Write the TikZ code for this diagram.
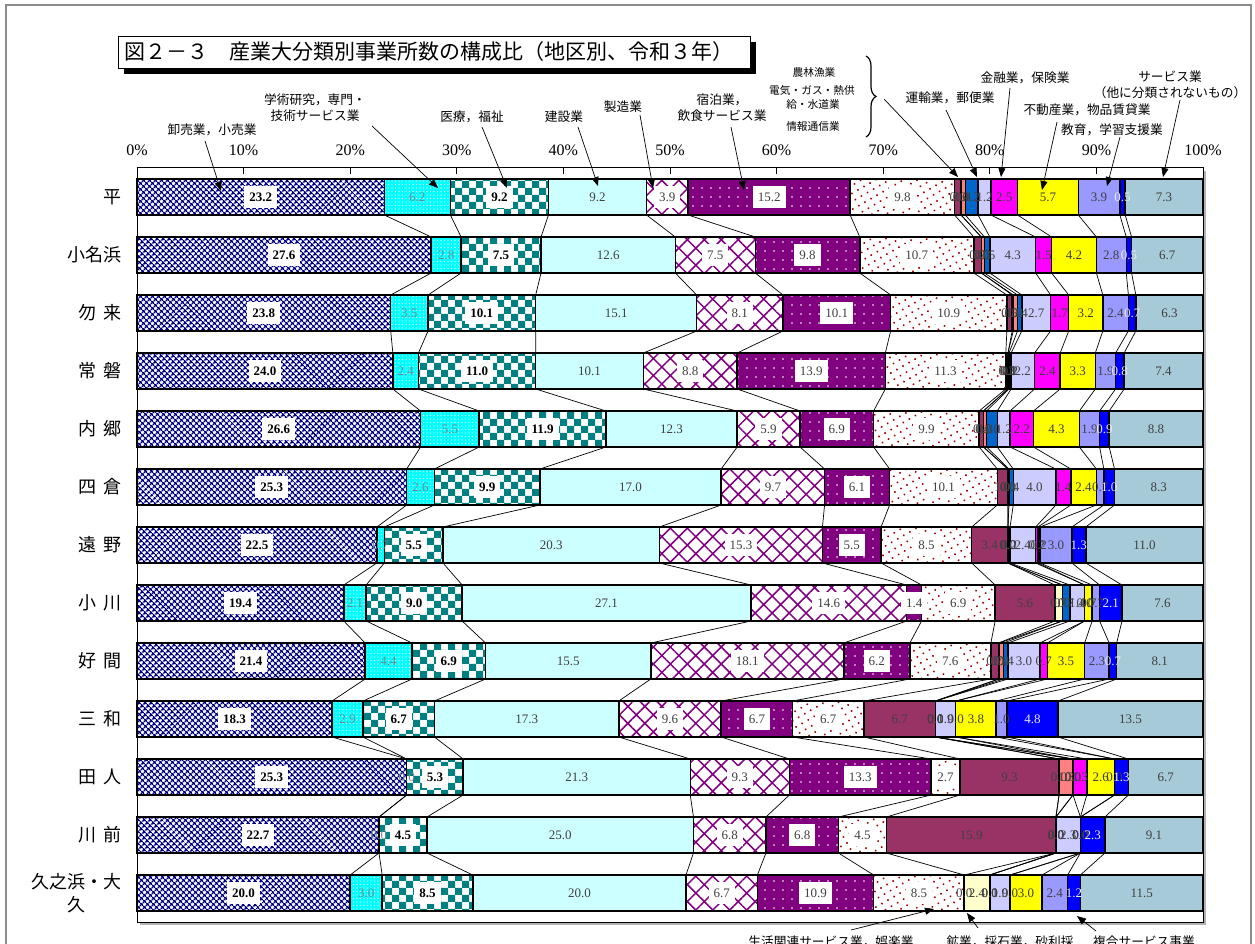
\documentclass[tikz,border=0pt]{standalone}
\usepackage{fontspec}
\setmainfont{Liberation Serif}
\newfontfamily\jp{Noto Sans CJK JP}
\usetikzlibrary{patterns,patterns.meta,arrows.meta,decorations.pathreplacing}
\pgfdeclarepatternformonly{bigcheck}{\pgfqpoint{-0.1pt}{-0.1pt}}{\pgfqpoint{14.1pt}{14.1pt}}{\pgfqpoint{14pt}{14pt}}{%
  \pgfpathrectangle{\pgfqpoint{0pt}{0pt}}{\pgfqpoint{7pt}{7pt}}%
  \pgfpathrectangle{\pgfqpoint{7pt}{7pt}}{\pgfqpoint{7pt}{7pt}}%
  \pgfusepath{fill}}
\definecolor{navyc}{HTML}{000080}
\definecolor{cyanc}{HTML}{00FFFF}
\definecolor{tealc}{HTML}{008080}
\definecolor{lcyan}{HTML}{CCFFFF}
\definecolor{purp}{HTML}{800080}
\definecolor{dred}{HTML}{A00000}
\definecolor{maroonc}{HTML}{993366}
\definecolor{lyel}{HTML}{FFFFCC}
\definecolor{salm}{HTML}{FF8080}
\definecolor{midblue}{HTML}{0066CC}
\definecolor{lav}{HTML}{CCCCFF}
\definecolor{mag}{HTML}{FF00FF}
\definecolor{yel}{HTML}{FFFF00}
\definecolor{peri}{HTML}{9999FF}
\definecolor{blu}{HTML}{0000FF}
\definecolor{lblue}{HTML}{A6CAD8}
\definecolor{txt}{HTML}{404040}
\definecolor{grayblue}{HTML}{6A8A96}
\definecolor{framegray}{HTML}{8C8C8C}

\def\rA{23.2,6.2,9.2,9.2,3.9,15.2,9.8,0.6,0.0,0.4,1.2,1.2,2.5,5.7,3.9,0.5,7.3}
\def\rB{27.6,2.8,7.5,12.6,7.5,9.8,10.7,0.7,0.0,0.3,0.5,4.3,1.5,4.2,2.8,0.5,6.7}
\def\rC{23.8,3.5,10.1,15.1,8.1,10.1,10.9,0.5,0.1,0.4,0.4,2.7,1.7,3.2,2.4,0.7,6.3}
\def\rD{24.0,2.4,11.0,10.1,8.8,13.9,11.3,0.2,0.0,0.1,0.2,2.2,2.4,3.3,1.9,0.8,7.4}
\def\rE{26.6,5.5,11.9,12.3,5.9,6.9,9.9,0.4,0.0,0.3,1.0,1.2,2.2,4.3,1.9,0.9,8.8}
\def\rF{25.3,2.6,9.9,17.0,9.7,6.1,10.1,1.0,0.0,0.1,0.4,4.0,1.4,2.4,0.7,1.0,8.3}
\def\rG{22.5,0.7,5.5,20.3,15.3,5.5,8.5,3.4,0.0,0.0,0.2,2.4,0.2,0.2,3.0,1.3,11.0}
\def\rH{19.4,2.1,9.0,27.1,14.6,1.4,6.9,5.6,0.7,0.0,0.7,1.4,0.0,0.7,0.7,2.1,7.6}
\def\rI{21.4,4.4,6.9,15.5,18.1,6.2,7.6,0.7,0.1,0.4,0.4,3.0,0.7,3.5,2.3,0.7,8.1}
\def\rJ{18.3,2.9,6.7,17.3,9.6,6.7,6.7,6.7,0.0,0.0,0.0,1.9,0.0,3.8,1.0,4.8,13.5}
\def\rK{25.3,0.0,5.3,21.3,9.3,13.3,2.7,9.3,0.0,1.3,0.0,0.0,1.3,2.6,0.0,1.3,6.7}
\def\rL{22.7,0.0,4.5,25.0,6.8,6.8,4.5,15.9,0.0,0.0,0.0,2.3,0.0,0.0,0.0,2.3,9.1}
\def\rM{20.0,3.0,8.5,20.0,6.7,10.9,8.5,0.0,2.4,0.0,0.0,1.9,0.0,3.0,2.4,1.2,11.5}

\newcommand\drawbar[2]{%
  \pgfmathsetmacro\yt{179+58*#1}%
  \pgfmathsetmacro\yb{\yt+36}%
  \pgfmathsetmacro\yc{\yt+18}%
  \gdef\cumx{0}%
  \foreach \v [count=\k] in #2 {%
    \pgfmathsetmacro\xs{\cumx}%
    \pgfmathsetmacro\xe{\k==17 ? 100 : \cumx+\v}%
    \xdef\cumx{\xe}%
    \edef\tmp{\noexpand\path[seg,s\k]}%
    \tmp ({137+10.66*\xs},\yt) rectangle ({137+10.66*\xe},\yb);
    \coordinate (t#1-\k) at ({137+10.66*\xe},\yt);
    \coordinate (b#1-\k) at ({137+10.66*\xe},\yb);
  }%
  \gdef\cumx{0}%
  \foreach \v [count=\k] in #2 {%
    \pgfmathsetmacro\xs{\cumx}%
    \pgfmathsetmacro\xe{\k==17 ? 100 : \cumx+\v}%
    \xdef\cumx{\xe}%
    \edef\tmp{\noexpand\node[lab,l\k] (n#1-\k)}%
    \tmp at ({137+10.66*(\xs+\xe)/2},\yc) {\v};
  }%
}

\begin{document}
\begin{tikzpicture}[x=1pt,y=-1pt,
  seg/.style={draw=black,line width=1.5pt},
  s1/.style={preaction={fill=white},pattern={Hatch[distance=4pt,angle=45,line width=1.55pt]},pattern color=navyc},
  s2/.style={preaction={fill=cyanc},pattern={Dots[distance=3.5pt,radius=0.7pt]},pattern color=white},
  s3/.style={preaction={fill=white},pattern=bigcheck,pattern color=tealc},
  s4/.style={fill=lcyan},
  s5/.style={preaction={fill=white},pattern={Hatch[distance=12pt,angle=45,line width=1.5pt]},pattern color=purp},
  s6/.style={preaction={fill=purp},pattern={Dots[distance=9pt,radius=0.9pt]},pattern color=white},
  s7/.style={preaction={fill=white},pattern={Dots[distance=7pt,radius=1.1pt,angle=30]},pattern color=dred},
  s8/.style={fill=maroonc}, s9/.style={fill=lyel}, s10/.style={fill=salm},
  s11/.style={fill=midblue}, s12/.style={fill=lav}, s13/.style={fill=mag},
  s14/.style={fill=yel}, s15/.style={fill=peri}, s16/.style={fill=blu}, s17/.style={fill=lblue},
  lab/.style={font=\fontsize{13}{14}\selectfont,text=txt,inner sep=1.5pt},
  lw/.style={fill=white,inner xsep=5pt,minimum height=22pt},
  l1/.style={lw,font=\fontsize{13}{14}\selectfont\bfseries,text=black},
  l2/.style={text=grayblue}, l3/.style={l1}, l4/.style={},
  l5/.style={lw}, l6/.style={lw}, l7/.style={lw},
  l8/.style={}, l9/.style={}, l10/.style={}, l11/.style={}, l12/.style={},
  l13/.style={}, l14/.style={}, l15/.style={}, l16/.style={text=white!85!gray}, l17/.style={},
  conn/.style={line width=0.7pt},
  rowlab/.style={font=\jp\fontsize{18}{22}\selectfont,anchor=east,inner sep=0pt,align=center},
  pct/.style={font=\fontsize{16}{18}\selectfont,inner sep=0pt},
  ann/.style={font=\jp\fontsize{12.7}{16}\selectfont,inner sep=0pt,align=center},
  annsmall/.style={font=\jp\fontsize{10.7}{13}\selectfont,inner sep=0pt},
  arr/.style={line width=0.7pt,-{Triangle[length=9pt,width=7pt]}}
]
\useasboundingbox (0,0) rectangle (1255,944);
% outer frame
\draw[framegray,line width=1.5pt] (6,5) rectangle (1251,1000);
% title
\fill[black] (124,42) rectangle (756,74);
\draw[fill=white,line width=0.8pt] (118,36) rectangle (750,68);
\node[font=\jp\fontsize{21}{24}\selectfont,anchor=west,inner sep=0pt] (title) at (124,52) {図２－３　産業大分類別事業所数の構成比（地区別、令和３年）};
% plot area
\fill[gray!60] (140,171) rectangle (1206,925);
\draw[fill=white,line width=1pt] (137,168) rectangle (1203,922);
\foreach \i in {0,...,10} {
  \pgfmathtruncatemacro\p{10*\i}
  \draw[line width=0.8pt] ({137+106.6*\i},168) -- ({137+106.6*\i},174);
  \node[pct] (pct\i) at ({137+106.6*\i},150) {\p\%};
}
% bars
\drawbar{0}{\rA}
\drawbar{1}{\rB}
\drawbar{2}{\rC}
\drawbar{3}{\rD}
\drawbar{4}{\rE}
\drawbar{5}{\rF}
\drawbar{6}{\rG}
\drawbar{7}{\rH}
\drawbar{8}{\rI}
\drawbar{9}{\rJ}
\drawbar{10}{\rK}
\drawbar{11}{\rL}
\drawbar{12}{\rM}
% series lines
\foreach \r in {0,...,11} {
  \pgfmathtruncatemacro\rn{\r+1}
  \foreach \k in {1,...,16} { \draw[conn] (b\r-\k) -- (t\rn-\k); }
}
% row labels
\node[rowlab] (rl0) at (122,197) {平};
\node[rowlab] (rl1) at (122,255) {小名浜};
\node[rowlab] (rl2) at (122,313) {勿\hspace{7pt}来};
\node[rowlab] (rl3) at (122,371) {常\hspace{7pt}磐};
\node[rowlab] (rl4) at (122,429) {内\hspace{7pt}郷};
\node[rowlab] (rl5) at (122,487) {四\hspace{7pt}倉};
\node[rowlab] (rl6) at (122,545) {遠\hspace{7pt}野};
\node[rowlab] (rl7) at (122,603) {小\hspace{7pt}川};
\node[rowlab] (rl8) at (122,661) {好\hspace{7pt}間};
\node[rowlab] (rl9) at (122,719) {三\hspace{7pt}和};
\node[rowlab] (rl10) at (122,777) {田\hspace{7pt}人};
\node[rowlab] (rl11) at (122,835) {川\hspace{7pt}前};
\node[rowlab,font=\jp\fontsize{18}{23}\selectfont] (rl12) at (122,893) {久之浜・大\\久};
% top annotations
\node[ann] (aw) at (212,130) {卸売業，小売業};
\coordinate (aw1) at (205,141); \coordinate (aw2) at (221,191);
\draw[arr] (aw1) -- (aw2);
\node[ann] (ag) at (315,108) {学術研究，専門・\\技術サービス業};
\coordinate (ag1) at (372,126); \coordinate (ag2) at (438,188);
\draw[arr] (ag1) -- (ag2);
\node[ann] (am) at (472,117) {医療，福祉};
\coordinate (am1) at (482,127); \coordinate (am2) at (507,188);
\draw[arr] (am1) -- (am2);
\node[ann] (ak) at (564,117) {建設業};
\coordinate (ak1) at (578,127); \coordinate (ak2) at (598,186);
\draw[arr] (ak1) -- (ak2);
\node[ann] (as) at (623,107) {製造業};
\coordinate (as1) at (640,115); \coordinate (as2) at (653,188);
\draw[arr] (as1) -- (as2);
\node[ann] (ah) at (722,108) {宿泊業，\\飲食サービス業};
\coordinate (ah1) at (731,127); \coordinate (ah2) at (744,190);
\draw[arr] (ah1) -- (ah2);
\node[annsmall] (b1) at (814,72) {農林漁業};
\node[annsmall] (b2) at (812,90) {電気・ガス・熱供};
\node[annsmall] (b3) at (813,104) {給・水道業};
\node[annsmall] (b4) at (813,126) {情報通信業};
\coordinate (br1) at (866,56); \coordinate (br2) at (866,137);
\draw[decorate,decoration={brace,amplitude=10pt},line width=1.2pt] (br1) -- (br2);
\coordinate (bra1) at (884,99); \coordinate (bra2) at (958,177);
\draw[arr] (bra1) -- (bra2);
\node[ann] (au) at (950,98) {運輸業，郵便業};
\coordinate (au1) at (946,110); \coordinate (au2) at (977,177);
\draw[arr] (au1) -- (au2);
\node[ann] (af) at (1025,78) {金融業，保険業};
\coordinate (af1) at (1010,88); \coordinate (af2) at (1001,177);
\draw[arr] (af1) -- (af2);
\node[ann] (ar) at (1087,110) {不動産業，物品賃貸業};
\coordinate (ar1) at (1057,122); \coordinate (ar2) at (1042,190);
\draw[arr] (ar1) -- (ar2);
\node[ann] (ae) at (1112,130) {教育，学習支援業};
\coordinate (ae1) at (1120,137); \coordinate (ae2) at (1107,186);
\draw[arr] (ae1) -- (ae2);
\node[ann] (asv) at (1170,85) {サービス業\\（他に分類されないもの）};
\coordinate (asv1) at (1180,100); \coordinate (asv2) at (1163,177);
\draw[arr] (asv1) -- (asv2);
% bottom annotations
\node[ann] (al) at (831,942) {生活関連サービス業，娯楽業};
\coordinate (al1) at (851,930); \coordinate (al2) at (934,909);
\draw[arr] (al1) -- (al2);
\node[ann] (ako) at (1010,942) {鉱業，採石業，砂利採};
\coordinate (ako1) at (978,928); \coordinate (ako2) at (967,913);
\draw[arr] (ako1) -- (ako2);
\node[ann] (afk) at (1144,942) {複合サービス事業};
\coordinate (afk1) at (1096,931); \coordinate (afk2) at (1077,916);
\draw[arr] (afk1) -- (afk2);
\end{tikzpicture}
\end{document}
